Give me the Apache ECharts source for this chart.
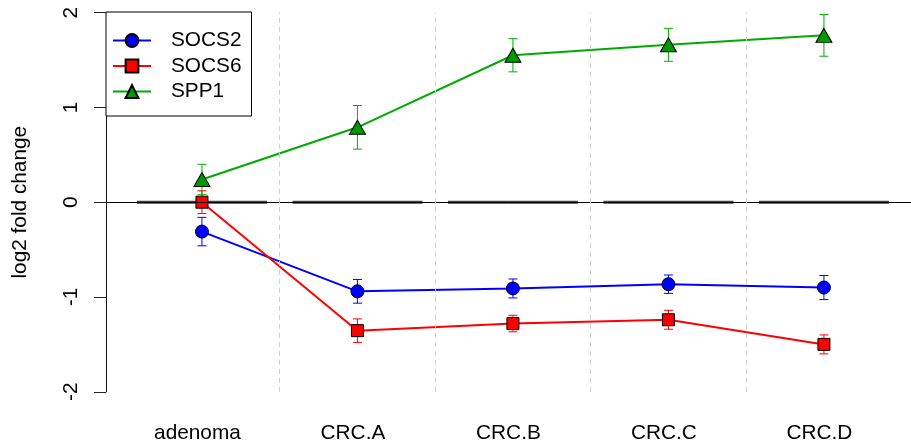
<!DOCTYPE html>
<html>
<head>
<meta charset="utf-8">
<script src="https://cdn.jsdelivr.net/npm/echarts@6/dist/echarts.min.js"></script>
<style>
html,body{margin:0;padding:0;background:#fff;}
#chart{width:911px;height:445px;}
</style>
</head>
<body>
<div id="chart"></div>
<script>
const categories = ['adenoma', 'CRC.A', 'CRC.B', 'CRC.C', 'CRC.D'];
const yTicks = [-2, -1, 0, 1, 2];
const socs2 = [-0.31, -0.94, -0.91, -0.865, -0.90];
const socs2Err = [0.15, 0.125, 0.10, 0.097, 0.127];
const socs6 = [0.0, -1.355, -1.28, -1.24, -1.50];
const socs6Err = [0.12, 0.124, 0.087, 0.10, 0.10];
const spp1 = [0.24, 0.79, 1.55, 1.66, 1.76];
const spp1Err = [0.16, 0.23, 0.175, 0.174, 0.22];
const zeroRef = [0, 0, 0, 0, 0];

const FONT = "'Liberation Sans', Arial, sans-serif";
const FS = 20.8;

function pts(vals) { return vals.map((v, i) => [i, v]); }
function errData(vals, errs) { return vals.map((v, i) => [i, v, errs[i]]); }

function errRender(color) {
  return function (params, api) {
    const x = api.value(0), y = api.value(1), e = api.value(2);
    const t = api.coord([x, y + e]);
    const b = api.coord([x, y - e]);
    const hw = 4.5;
    const st = { stroke: color, lineWidth: 1 };
    return {
      type: 'group',
      children: [
        { type: 'line', shape: { x1: t[0], y1: t[1], x2: b[0], y2: b[1] }, style: st },
        { type: 'line', shape: { x1: t[0] - hw, y1: t[1], x2: t[0] + hw, y2: t[1] }, style: st },
        { type: 'line', shape: { x1: b[0] - hw, y1: b[1], x2: b[0] + hw, y2: b[1] }, style: st }
      ]
    };
  };
}

function segRender(params, api) {
  const x = api.value(0), y = api.value(1);
  const a = api.coord([x - 0.418, y]);
  const b = api.coord([x + 0.418, y]);
  return { type: 'line', shape: { x1: a[0], y1: a[1], x2: b[0], y2: b[1] }, style: { stroke: '#444', lineWidth: 3 } };
}

const chart = echarts.init(document.getElementById('chart'));
chart.setOption({
  animation: false,
  backgroundColor: '#fff',
  textStyle: { fontFamily: FONT, color: '#000' },
  grid: { left: 106, right: 0, top: 12.6, bottom: 53.2, containLabel: false, outerBoundsMode: 'none' },
  xAxis: {
    type: 'value', min: -0.617, max: 4.56,
    axisLine: { show: false, onZero: false }, axisTick: { show: false }, splitLine: { show: false },
    axisLabel: {
      customValues: categories.map((c, i) => i),
      formatter: v => categories[Math.round(v)] || '',
      fontSize: FS, fontFamily: FONT, color: '#000', margin: 31, padding: [0, 9, 0, 0]
    }
  },
  yAxis: {
    type: 'value', min: -2, max: 2, interval: 1,
    name: 'log2 fold change', nameLocation: 'middle', nameRotate: 90, nameGap: 75.5,
    nameTextStyle: { fontSize: FS, fontFamily: FONT, color: '#000' },
    axisLine: { show: true, onZero: false, lineStyle: { color: '#111', width: 1 } },
    axisTick: { show: true, length: 12, lineStyle: { color: '#222', width: 1 } },
    splitLine: { show: false },
    axisLabel: {
      customValues: yTicks, rotate: 90, fontSize: FS, fontFamily: FONT, color: '#000', margin: 24
    }
  },
  legend: {
    left: 106, top: 12, orient: 'vertical',
    data: ['SOCS2', 'SOCS6', 'SPP1'],
    padding: [18, 10, 14, 6], itemGap: 4.5, itemWidth: 38, itemHeight: 16,
    borderColor: '#000', borderWidth: 1, borderRadius: 0, backgroundColor: '#fff',
    lineStyle: { width: 2 },
    textStyle: { fontSize: FS, fontFamily: FONT, color: '#000', lineHeight: 21, padding: [0, 0, 0, 15] }
  },
  series: [
    {
      name: 'zeroSegs', type: 'custom', renderItem: segRender, data: pts(zeroRef), z: 1, silent: true,
      markLine: {
        silent: true, symbol: 'none', label: { show: false }, animation: false,
        data: [
          { yAxis: 0, lineStyle: { color: '#000', width: 1, type: 'solid' } },
          ...categories.slice(1).map((c, i) => ({ xAxis: i + 0.5, lineStyle: { color: '#cfcfcf', width: 1, type: [5, 4] } }))
        ]
      }
    },
    { name: 'socs2Err', type: 'custom', renderItem: errRender('#0000FF'), data: errData(socs2, socs2Err), z: 2, silent: true },
    { name: 'socs6Err', type: 'custom', renderItem: errRender('#FF0000'), data: errData(socs6, socs6Err), z: 2, silent: true },
    { name: 'spp1Err', type: 'custom', renderItem: errRender('#00B000'), data: errData(spp1, spp1Err), z: 2, silent: true },
    {
      name: 'SOCS2', type: 'line', data: pts(socs2), z: 3,
      symbol: 'circle', symbolSize: 13,
      lineStyle: { color: '#0000FF', width: 2 },
      itemStyle: { color: '#0000FF', borderColor: '#000', borderWidth: 1 }
    },
    {
      name: 'SOCS6', type: 'line', data: pts(socs6), z: 3,
      symbol: 'rect', symbolSize: 12,
      lineStyle: { color: '#FF0000', width: 2 },
      itemStyle: { color: '#FF0000', borderColor: '#000', borderWidth: 1 }
    },
    {
      name: 'SPP1', type: 'line', data: pts(spp1), z: 3,
      symbol: 'triangle', symbolSize: [16, 14],
      lineStyle: { color: '#00AA00', width: 2 },
      itemStyle: { color: '#009900', borderColor: '#000', borderWidth: 1 }
    }
  ]
});
</script>
</body>
</html>
